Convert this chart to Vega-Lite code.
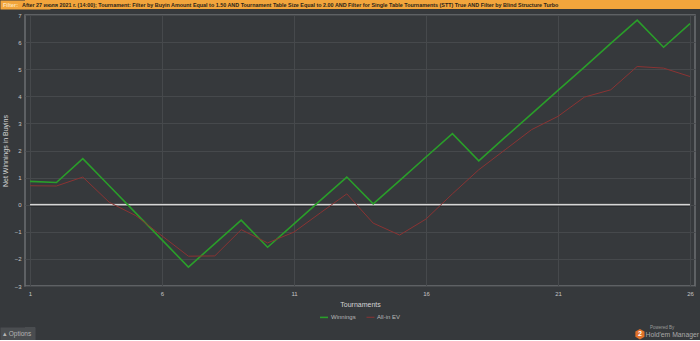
{
  "$schema": "https://vega.github.io/schema/vega-lite/v6.json",
  "background": "#36393c",
  "padding": 0,
  "spacing": 2,
  "resolve": {"legend": {"color": "independent", "strokeWidth": "independent"}, "scale": {"color": "independent", "strokeWidth": "independent", "x": "independent", "y": "independent"}},
  "config": {
    "font": "Liberation Sans",
    "view": {"stroke": null},
    "axis": {
      "domain": false,
      "ticks": false,
      "grid": true,
      "gridColor": "#46494c",
      "gridWidth": 1,
      "labelColor": "#c4c4c4",
      "labelFontSize": 6,
      "labelPadding": 4,
      "titleColor": "#d4d4d4",
      "titleFontSize": 7,
      "titleFontWeight": "normal"
    },
    "legend": {
      "labelColor": "#b8b8b8",
      "labelFontSize": 6,
      "symbolType": "stroke",
      "symbolSize": 64,
      "symbolStrokeWidth": 2,
      "columnPadding": 8,
      "labelOffset": 2,
      "layout": {"bottom": {"anchor": "middle"}}
    }
  },
  "datasets": {
    "header": [{"a": "Filter:", "b": "After 27 июля 2021 г. (14:00); Tournament: Filter by Buyin Amount Equal to 1.50 AND Tournament Table Size Equal to 2.00 AND Filter for Single Table Tournaments (STT) True AND Filter by Blind Structure  Turbo"}],
    "zero": [{"x": 1, "x2": 26, "y": 0}],
    "series": [
      {"t": 1, "series": "Winnings", "value": 0.86},
      {"t": 2, "series": "Winnings", "value": 0.82},
      {"t": 3, "series": "Winnings", "value": 1.70},
      {"t": 4, "series": "Winnings", "value": 0.70},
      {"t": 5, "series": "Winnings", "value": -0.30},
      {"t": 6, "series": "Winnings", "value": -1.30},
      {"t": 7, "series": "Winnings", "value": -2.30},
      {"t": 8, "series": "Winnings", "value": -1.44},
      {"t": 9, "series": "Winnings", "value": -0.57},
      {"t": 10, "series": "Winnings", "value": -1.57},
      {"t": 11, "series": "Winnings", "value": -0.71},
      {"t": 12, "series": "Winnings", "value": 0.16},
      {"t": 13, "series": "Winnings", "value": 1.02},
      {"t": 14, "series": "Winnings", "value": 0.03},
      {"t": 15, "series": "Winnings", "value": 0.89},
      {"t": 16, "series": "Winnings", "value": 1.76},
      {"t": 17, "series": "Winnings", "value": 2.62},
      {"t": 18, "series": "Winnings", "value": 1.62},
      {"t": 19, "series": "Winnings", "value": 2.49},
      {"t": 20, "series": "Winnings", "value": 3.35},
      {"t": 21, "series": "Winnings", "value": 4.22},
      {"t": 22, "series": "Winnings", "value": 5.08},
      {"t": 23, "series": "Winnings", "value": 5.95},
      {"t": 24, "series": "Winnings", "value": 6.81},
      {"t": 25, "series": "Winnings", "value": 5.81},
      {"t": 26, "series": "Winnings", "value": 6.68},
      {"t": 1, "series": "All-in EV", "value": 0.70},
      {"t": 2, "series": "All-in EV", "value": 0.69},
      {"t": 3, "series": "All-in EV", "value": 1.02},
      {"t": 4, "series": "All-in EV", "value": 0.09},
      {"t": 5, "series": "All-in EV", "value": -0.40},
      {"t": 6, "series": "All-in EV", "value": -1.15},
      {"t": 7, "series": "All-in EV", "value": -1.90},
      {"t": 8, "series": "All-in EV", "value": -1.89},
      {"t": 9, "series": "All-in EV", "value": -0.92},
      {"t": 10, "series": "All-in EV", "value": -1.41},
      {"t": 11, "series": "All-in EV", "value": -1.01},
      {"t": 12, "series": "All-in EV", "value": -0.30},
      {"t": 13, "series": "All-in EV", "value": 0.40},
      {"t": 14, "series": "All-in EV", "value": -0.68},
      {"t": 15, "series": "All-in EV", "value": -1.12},
      {"t": 16, "series": "All-in EV", "value": -0.53},
      {"t": 17, "series": "All-in EV", "value": 0.40},
      {"t": 18, "series": "All-in EV", "value": 1.29},
      {"t": 19, "series": "All-in EV", "value": 2.03},
      {"t": 20, "series": "All-in EV", "value": 2.77},
      {"t": 21, "series": "All-in EV", "value": 3.26},
      {"t": 22, "series": "All-in EV", "value": 3.97},
      {"t": 23, "series": "All-in EV", "value": 4.24},
      {"t": 24, "series": "All-in EV", "value": 5.10},
      {"t": 25, "series": "All-in EV", "value": 5.04},
      {"t": 26, "series": "All-in EV", "value": 4.73}
    ],
    "footer": [{"options": "▴  Options", "by": "Powered By", "brand": "Hold'em Manager", "logo": "2"}]
  },
  "vconcat": [
    {
      "width": 675,
      "height": 9,
      "view": {"fill": "#f2a53c", "stroke": null},
      "data": {"name": "header"},
      "encoding": {
        "x": {"datum": 0, "type": "quantitative", "scale": {"domain": [0, 1]}, "axis": null},
        "y": {"datum": 0.5, "type": "quantitative", "scale": {"domain": [0, 1]},
              "axis": {"domain": true, "domainColor": "#f2a53c", "domainWidth": 50, "domainCap": "butt", "labels": false, "ticks": false, "grid": false, "title": null}}
      },
      "layer": [
        {
          "mark": {"type": "text", "align": "left", "baseline": "middle", "fontSize": 5.4, "fontWeight": "bold", "color": "#fbe2b8", "dx": -22},
          "encoding": {"text": {"field": "a"}}
        },
        {
          "mark": {"type": "text", "align": "left", "baseline": "middle", "fontSize": 5.4, "fontWeight": "bold", "color": "#2b2418", "dx": -3},
          "encoding": {"text": {"field": "b"}}
        }
      ]
    },
    {
      "spacing": 3,
      "resolve": {"legend": {"color": "independent", "strokeWidth": "independent"}, "scale": {"color": "independent", "strokeWidth": "independent", "x": "independent", "y": "independent"}},
      "vconcat": [
        {
          "width": 670,
          "height": 271,
          "view": {"stroke": "#6c6f72", "strokeWidth": 1.5},
          "encoding": {
            "x": {
              "field": "t", "type": "quantitative",
              "scale": {"domain": [0.81, 26.19], "nice": false, "zero": false},
              "axis": {"values": [1, 6, 11, 16, 21, 26], "title": "Tournaments", "titlePadding": 4}
            },
            "y": {
              "field": "value", "type": "quantitative",
              "scale": {"domain": [-3, 7], "nice": false},
              "axis": {"values": [-3, -2, -1, 0, 1, 2, 3, 4, 5, 6, 7], "title": "Net Winnings in Buyins", "titlePadding": 6}
            }
          },
          "layer": [
            {
              "data": {"name": "zero"},
              "mark": {"type": "rule", "color": "#1e2022", "strokeWidth": 3.5},
              "encoding": {"x": {"field": "x", "type": "quantitative"}, "x2": {"field": "x2"}, "y": {"field": "y", "type": "quantitative"}}
            },
            {
              "data": {"name": "zero"},
              "mark": {"type": "rule", "color": "#d6d6d6", "strokeWidth": 1.8},
              "encoding": {"x": {"field": "x", "type": "quantitative"}, "x2": {"field": "x2"}, "y": {"field": "y", "type": "quantitative"}}
            },
            {
              "data": {"name": "series"},
              "mark": {"type": "line"},
              "encoding": {
                "color": {
                  "field": "series", "type": "nominal",
                  "scale": {"domain": ["Winnings", "All-in EV"], "range": ["#2a9e2a", "#8a3333"]},
                  "sort": ["Winnings", "All-in EV"],
                  "legend": {"orient": "bottom", "direction": "horizontal", "title": null, "offset": 5}
                },
                "strokeWidth": {
                  "field": "series", "type": "nominal",
                  "scale": {"domain": ["Winnings", "All-in EV"], "range": [1.6, 1.0]},
                  "legend": null
                },
                "order": {"field": "t", "type": "quantitative"}
              }
            }
          ]
        },
        {
          "width": 675,
          "height": 13,
          "data": {"name": "footer"},
          "encoding": {
            "y": {"datum": 0.45, "type": "quantitative", "scale": {"domain": [0, 1]},
                  "axis": {"domain": true, "domainColor": "#4a4d50", "domainWidth": 35, "domainCap": "butt", "offset": 7.5, "labels": false, "ticks": false, "grid": false, "title": null}}
          },
          "layer": [
            {
              "mark": {"type": "rect", "color": "#4a4d50"},
              "encoding": {
                "x": {"datum": 0, "type": "quantitative", "scale": {"domain": [0, 1]}, "axis": null},
                "x2": {"datum": 0.015},
                "y": {"datum": 0, "type": "quantitative"},
                "y2": {"datum": 1}
              }
            },
            {
              "mark": {"type": "text", "align": "left", "baseline": "middle", "fontSize": 6.5, "color": "#b4b4b4", "dx": -22},
              "encoding": {
                "x": {"datum": 0, "type": "quantitative", "scale": {"domain": [0, 1]}, "axis": null},
                "text": {"field": "options"}
              }
            },
            {
              "mark": {"type": "point", "shape": "M0,-1L0.87,-0.5L0.87,0.5L0,1L-0.87,0.5L-0.87,-0.5Z", "filled": true, "color": "#e0712a", "size": 110, "opacity": 1},
              "encoding": {
                "x": {"datum": 0.911, "type": "quantitative", "scale": {"domain": [0, 1]}, "axis": null}
              }
            },
            {
              "mark": {"type": "text", "align": "center", "baseline": "middle", "fontSize": 7, "fontWeight": "bold", "color": "#ffffff"},
              "encoding": {
                "x": {"datum": 0.911, "type": "quantitative", "scale": {"domain": [0, 1]}, "axis": null},
                "text": {"field": "logo"}
              }
            },
            {
              "mark": {"type": "text", "align": "left", "baseline": "middle", "fontSize": 4.5, "color": "#9a9a9a"},
              "encoding": {
                "x": {"datum": 0.926, "type": "quantitative", "scale": {"domain": [0, 1]}, "axis": null},
                "y": {"datum": 0.9, "type": "quantitative"},
                "text": {"field": "by"}
              }
            },
            {
              "mark": {"type": "text", "align": "right", "baseline": "middle", "fontSize": 6.8, "color": "#a8a8a8", "dx": -1},
              "encoding": {
                "x": {"datum": 1, "type": "quantitative", "scale": {"domain": [0, 1]}, "axis": null},
                "y": {"datum": 0.4, "type": "quantitative"},
                "text": {"field": "brand"}
              }
            }
          ]
        }
      ]
    }
  ]
}
